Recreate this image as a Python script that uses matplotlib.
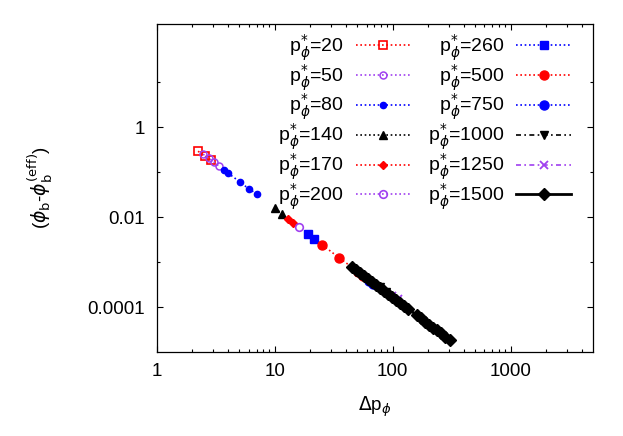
import matplotlib
matplotlib.use("Agg")
import matplotlib.pyplot as plt
from matplotlib.ticker import FixedLocator, FixedFormatter, NullFormatter

plt.rcParams["font.family"] = ["Liberation Sans", "DejaVu Sans"]
plt.rcParams["font.size"] = 13

# ---------------------------------------------------------------------------
# Data
# ---------------------------------------------------------------------------
p20_x = [2.23, 2.56, 2.87]
p20_y = [0.290, 0.225, 0.183]

p50_x = [2.46, 2.76, 3.05, 3.36]
p50_y = [0.249, 0.203, 0.166, 0.135]

p80_x = [3.71, 4.01, 5.07, 6.04, 7.06]
p80_y = [0.110, 0.0946, 0.0598, 0.0418, 0.0324]

p140_x = [10.04, 11.5]
p140_y = [0.0159, 0.0117]

p170_x = [12.9, 14.3]
p170_y = [0.00908, 0.00741]

p200_x = [16.05]
p200_y = [0.00604]

p260_x = [19.13, 21.5]
p260_y = [0.00423, 0.00328]

p500_x = [25.2, 35.1, 50.8, 56.1]
p500_y = [0.00241, 0.00124, 6.1e-4, 4.98e-4]

p750_x = [63.0, 68.2]
p750_y = [3.86e-4, 3.31e-4]

p1000_x = [78.2, 87.9]
p1000_y = [2.84e-4, 2.20e-4]

p1250_x = [98.9, 111.0]
p1250_y = [1.80e-4, 1.47e-4]

p1500_x = [45.2, 48.9, 52.9, 57.2, 61.8, 66.9, 72.3, 78.2, 84.5, 91.4, 98.8,
           106.9, 115.6, 125.0, 135.1, 161.1, 174.2, 188.4, 203.7, 220.3,
           238.2, 257.6, 278.5, 307.1]
p1500_y = [7.87e-4, 6.76e-4, 5.80e-4, 4.95e-4, 4.25e-4, 3.65e-4, 3.13e-4,
           2.69e-4, 2.31e-4, 1.97e-4, 1.69e-4, 1.45e-4, 1.25e-4, 1.07e-4,
           9.12e-5, 6.48e-5, 5.57e-5, 4.75e-5, 4.08e-5, 3.50e-5, 3.01e-5,
           2.58e-5, 2.20e-5, 1.82e-5]

p_values = ["20", "50", "80", "140", "170", "200",
            "260", "500", "750", "1000", "1250", "1500"]

RED = "#ff0000"
PURPLE = "#a040f0"
BLUE = "#0000ff"
BLACK = "#000000"
DOT = (0, (1, 1.6))
DASHDOT = (0, (3, 2, 1, 2))

series = [
    (p20_x, p20_y, dict(color=RED, ls=DOT, marker="s", ms=6, mfc="none", mew=1.2)),
    (p50_x, p50_y, dict(color=PURPLE, ls=DOT, marker="o", ms=5, mfc="none", mew=1.1)),
    (p80_x, p80_y, dict(color=BLUE, ls=DOT, marker="o", ms=4.5)),
    (p140_x, p140_y, dict(color=BLACK, ls=DOT, marker="^", ms=5.5)),
    (p170_x, p170_y, dict(color=RED, ls=DOT, marker="D", ms=4)),
    (p200_x, p200_y, dict(color=PURPLE, ls=DOT, marker="o", ms=5.5, mfc="none", mew=1.2)),
    (p260_x, p260_y, dict(color=BLUE, ls=DOT, marker="s", ms=6)),
    (p500_x, p500_y, dict(color=RED, ls=DOT, marker="o", ms=6.5)),
    (p750_x, p750_y, dict(color=BLUE, ls=DOT, marker="o", ms=6.5)),
    (p1000_x, p1000_y, dict(color=BLACK, ls=DASHDOT, marker="v", ms=5.5)),
    (p1250_x, p1250_y, dict(color=PURPLE, ls=DASHDOT, marker="x", ms=6, mew=1.3)),
    (p1500_x, p1500_y, dict(color=BLACK, ls="-", lw=2.0, marker="D", ms=6.5)),
]

fig = plt.figure(figsize=(6.23, 4.36), dpi=100)
ax = fig.add_axes([157 / 623, 1 - 352 / 436, 436 / 623, 328 / 436])

for (xs, ys, st), p in zip(series, p_values):
    st = dict(st)
    st.setdefault("lw", 1.2)
    ax.plot(xs, ys, label=r"p${}_{\phi}^{*}$=" + p, **st)

ax.set_xscale("log")
ax.set_yscale("log")
ax.set_xlim(1, 5000)
ax.set_ylim(1e-5, 195)

ax.xaxis.set_major_locator(FixedLocator([1, 10, 100, 1000]))
ax.xaxis.set_major_formatter(FixedFormatter(["1", "10", "100", "1000"]))
ax.xaxis.set_minor_locator(FixedLocator(
    [k * 10 ** n for n in range(4) for k in range(2, 10) if k * 10 ** n < 5000]))
ax.xaxis.set_minor_formatter(NullFormatter())

ax.yaxis.set_major_locator(FixedLocator([1e-4, 1e-2, 1]))
ax.yaxis.set_major_formatter(FixedFormatter(["0.0001", "0.01", "1"]))
ax.yaxis.set_minor_locator(FixedLocator([1e-3, 1e-1, 10]))
ax.yaxis.set_minor_formatter(NullFormatter())

ax.tick_params(which="both", direction="in", top=True, right=True, width=0.8)
ax.tick_params(which="major", length=4, labelsize=13.5)
ax.tick_params(axis="x", which="major", pad=8)
ax.tick_params(axis="y", which="major", pad=9)
ax.tick_params(which="minor", length=2)
for s in ax.spines.values():
    s.set_linewidth(0.9)

ax.set_xlabel(r"$\Delta$p$_{\phi}$", fontsize=13.5)
ax.xaxis.set_label_coords(0.5, -0.13)
ax.set_ylabel(r"($\phi_{\rm b}$-$\phi_{\rm b}^{\rm (eff)}$)", fontsize=13.5)
ax.yaxis.set_label_coords(-0.233, 0.5)

ax.legend(ncol=2, markerfirst=False, frameon=False, loc="upper right",
          bbox_to_anchor=(0.968, 1.0), borderaxespad=0.22, borderpad=0.2,
          handlelength=2.8, handletextpad=0.62, columnspacing=0.88,
          labelspacing=-0.04, fontsize=14)

fig.savefig("out.png", dpi=100)
